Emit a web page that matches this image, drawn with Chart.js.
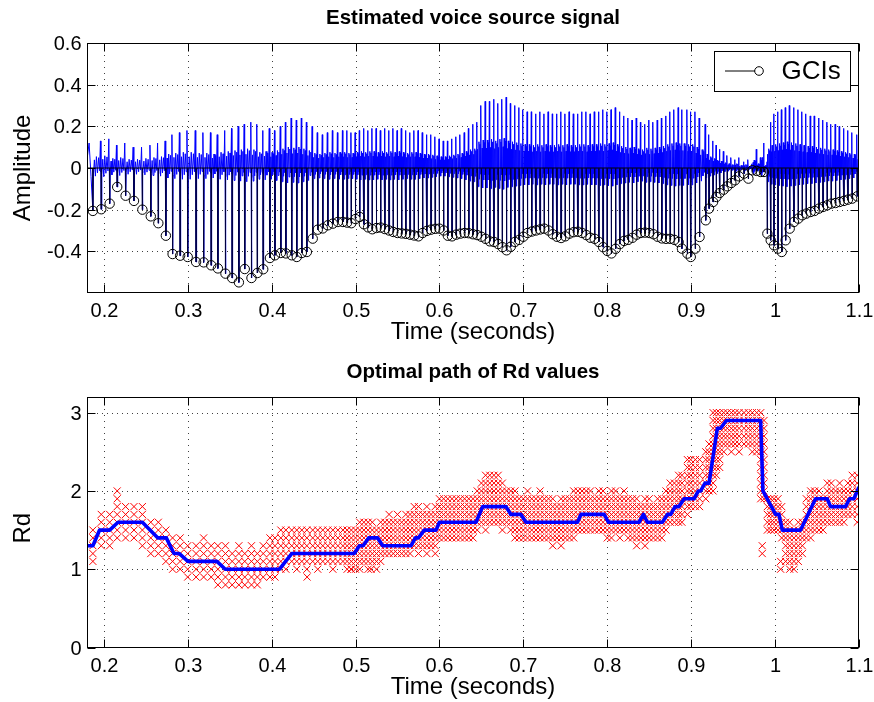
<!DOCTYPE html>
<html>
<head>
<meta charset="utf-8">
<script src="https://cdn.jsdelivr.net/npm/chart.js@4.4.0/dist/chart.umd.min.js"></script>
<style>
  html, body { margin: 0; padding: 0; background: #fff; }
  #wrap { position: relative; width: 874px; height: 702px; }
  canvas { position: absolute; left: 0; }
  #topChart { top: 0; }
  #botChart { top: 351px; }
</style>
</head>
<body>
<div id="wrap">
  <canvas id="topChart" width="874" height="351"></canvas>
  <canvas id="botChart" width="874" height="351"></canvas>
</div>
<script>
// ===== Data =====
// glottal closure instants (s) and their amplitudes
const gciT = [
  0.187,0.197,0.207,0.216,0.226,0.236,0.246,0.256,0.265,0.274,0.282,0.291,0.300,0.310,0.319,0.328,0.336,0.345,0.353,0.361,0.368,0.376,0.383,0.390,0.398,
  0.404,0.411,0.417,0.424,0.430,0.436,0.442,
  0.449,0.455,0.461,0.467,0.473,0.479,0.485,0.490,
  0.495,0.500,0.505,0.510,0.515,0.520,0.525,0.530,0.535,0.540,0.545,0.550,0.555,0.560,0.565,0.570,0.575,0.580,0.585,0.590,0.595,0.600,0.605,0.610,0.615,0.620,0.625,0.630,0.635,
  0.640,0.645,0.650,0.655,0.660,0.665,0.670,0.675,0.680,0.685,0.690,0.695,0.700,
  0.705,0.710,0.715,0.720,0.725,0.730,0.735,0.740,0.745,0.750,0.755,0.760,0.765,0.770,0.775,0.780,0.785,0.790,0.795,0.800,0.805,0.810,0.815,0.820,0.825,0.830,0.835,0.840,0.845,0.850,0.855,0.860,0.865,0.870,0.875,0.880,0.885,
  0.889,0.8955,0.8995,0.905,0.910,0.9174,0.9213,0.9261,0.9301,0.934,0.9388,0.9431,0.9479,0.9523,0.9571,0.963,0.9682,0.9729,0.9781,0.9829,0.9868,
  0.9908,0.9948,0.9987,1.0035,1.0079,1.0126,1.0174,1.0225,1.0277,1.0325,1.0372,1.0424,1.0471,1.0523,1.0571,1.0622,1.0670,1.0721,1.0769,1.0820,1.0868,1.0919,1.0979
];
const gciA = [
  -0.206,-0.198,-0.171,-0.091,-0.133,-0.158,-0.200,-0.232,-0.265,-0.325,-0.413,-0.421,-0.427,-0.451,-0.453,-0.467,-0.482,-0.507,-0.528,-0.549,-0.485,-0.528,-0.504,-0.486,-0.432,
  -0.419,-0.408,-0.410,-0.419,-0.427,-0.408,-0.403,
  -0.339,-0.296,-0.290,-0.275,-0.267,-0.259,-0.259,-0.262,
  -0.265,-0.245,-0.235,-0.270,-0.285,-0.294,-0.288,-0.286,-0.293,-0.300,-0.307,-0.312,-0.314,-0.316,-0.320,-0.324,-0.328,-0.312,-0.302,-0.296,-0.292,-0.291,-0.300,-0.325,-0.328,-0.320,-0.315,-0.312,-0.313,
  -0.318,-0.322,-0.330,-0.340,-0.352,-0.355,-0.365,-0.380,-0.395,-0.378,-0.355,-0.345,-0.330,
  -0.312,-0.305,-0.300,-0.295,-0.291,-0.300,-0.318,-0.330,-0.336,-0.328,-0.315,-0.308,-0.306,-0.312,-0.322,-0.335,-0.340,-0.355,-0.380,-0.398,-0.410,-0.388,-0.365,-0.350,-0.345,-0.335,-0.320,-0.312,-0.310,-0.312,-0.318,-0.330,-0.338,-0.340,-0.340,-0.345,-0.355,
  -0.387,-0.411,-0.427,-0.387,-0.331,-0.251,-0.195,-0.163,-0.139,-0.120,-0.104,-0.088,-0.072,-0.059,-0.040,-0.027,-0.051,-0.011,-0.014,-0.019,-0.019,
  -0.315,-0.347,-0.371,-0.387,-0.403,-0.347,-0.291,-0.259,-0.243,-0.227,-0.219,-0.211,-0.206,-0.195,-0.187,-0.179,-0.171,-0.168,-0.163,-0.158,-0.152,-0.147,-0.136
];
// positive peak of the source signal in each cycle
const peakA = [
  0.13,0.14,0.11,0.12,0.10,0.10,0.11,0.12,0.13,0.16,0.17,0.18,0.18,0.17,0.17,0.16,0.18,0.19,0.20,0.21,0.22,0.21,0.18,0.19,0.18,
  0.20,0.22,0.24,0.23,0.24,0.22,0.20,
  0.17,0.16,0.17,0.18,0.17,0.18,0.18,0.17,
  0.17,0.18,0.19,0.18,0.19,0.19,0.18,0.19,0.18,0.19,0.18,0.19,0.18,0.17,0.18,0.18,0.17,0.16,0.16,0.15,0.14,0.13,0.13,0.14,0.15,0.16,0.17,0.19,0.21,
  0.22,0.30,0.32,0.32,0.33,0.31,0.33,0.34,0.31,0.30,0.29,0.28,0.27,
  0.27,0.26,0.27,0.26,0.27,0.26,0.26,0.27,0.26,0.27,0.26,0.26,0.27,0.27,0.26,0.27,0.27,0.28,0.27,0.28,0.29,0.27,0.25,0.24,0.23,0.24,0.22,0.21,0.23,0.22,0.23,0.24,0.25,0.27,0.28,0.29,0.28,
  0.28,0.27,0.27,0.24,0.21,0.16,0.13,0.11,0.09,0.08,0.06,0.05,0.04,0.05,0.03,0.04,0.02,0.09,0.05,0.12,0.03,
  0.22,0.26,0.27,0.28,0.29,0.30,0.29,0.28,0.27,0.26,0.25,0.25,0.24,0.23,0.22,0.21,0.21,0.20,0.19,0.18,0.17,0.16,0.14
];
// Rd candidates per frame (lowest / highest kept value)
const rdLo = [
  1.1,1.3,1.3,1.4,1.4,1.4,1.3,1.2,1.2,1.1,1.0,1.0,0.9,0.9,0.9,0.9,0.8,0.8,0.8,0.8,0.8,0.8,0.8,0.9,0.9,
  0.9,1.0,1.0,1.1,1.0,1.1,1.0,
  1.1,1.0,1.1,1.1,1.0,1.1,1.1,1.0,
  1.0,1.0,1.0,1.1,1.0,1.1,1.0,1.1,1.2,1.2,1.2,1.2,1.2,1.2,1.2,1.3,1.2,1.3,1.2,1.3,1.2,1.4,1.4,1.4,1.4,1.4,1.4,1.4,1.4,
  1.4,1.5,1.6,1.5,1.6,1.6,1.6,1.5,1.6,1.5,1.4,1.4,1.4,
  1.4,1.4,1.4,1.4,1.4,1.4,1.3,1.4,1.3,1.4,1.4,1.4,1.5,1.5,1.5,1.5,1.5,1.5,1.5,1.4,1.4,1.5,1.4,1.5,1.4,1.4,1.3,1.4,1.3,1.4,1.4,1.4,1.4,1.5,1.6,1.6,1.6,
  1.6,1.7,1.8,1.8,1.8,1.9,2.0,2.0,2.2,2.3,2.5,2.6,2.5,2.6,2.5,2.6,2.6,2.5,2.5,1.9,1.9,
  1.5,1.5,1.5,1.5,1.4,1.1,1.0,1.0,1.1,1.2,1.4,1.4,1.5,1.5,1.5,1.6,1.6,1.6,1.6,1.6,1.7,1.7,1.6
];
const rdHi = [
  1.5,1.7,1.7,2.0,1.8,1.8,1.8,1.6,1.6,1.5,1.4,1.4,1.3,1.3,1.4,1.3,1.3,1.3,1.2,1.3,1.2,1.3,1.2,1.3,1.4,
  1.4,1.5,1.5,1.5,1.5,1.5,1.5,
  1.5,1.5,1.5,1.5,1.5,1.5,1.5,1.5,
  1.5,1.5,1.6,1.6,1.6,1.6,1.5,1.6,1.6,1.7,1.6,1.7,1.6,1.7,1.7,1.8,1.8,1.7,1.8,1.7,1.8,1.9,1.9,1.9,1.9,1.9,1.9,1.9,1.9,
  1.9,2.0,2.1,2.2,2.2,2.2,2.2,2.1,2.0,2.0,2.0,1.9,1.9,
  2.0,1.9,1.9,2.0,1.9,1.9,1.9,1.8,1.9,1.9,1.9,2.0,2.0,2.0,2.0,2.0,1.9,2.0,2.0,1.9,2.0,2.0,1.9,2.0,1.9,1.9,1.9,1.8,1.9,1.9,1.8,1.9,1.9,2.0,2.1,2.1,2.2,
  2.2,2.4,2.4,2.4,2.4,2.5,2.6,3.0,3.0,3.0,3.0,3.0,3.0,3.0,3.0,3.0,3.0,3.0,3.0,3.0,2.9,
  1.9,1.9,1.9,1.9,1.8,1.6,1.6,1.5,1.6,1.6,1.9,2.0,2.0,2.0,1.9,2.1,2.1,2.0,2.1,2.0,2.1,2.2,2.2
];
// isolated candidates
const rdOutT = [0.4423, 0.4947, 0.5185, 0.9847, 0.9847, 1.0066, 1.0066];
const rdOutV = [0.9, 1.0, 1.0, 1.3, 1.2, 1.0, 1.1];
// optimal Rd path (corner points)
const rdPathT = [0.18,0.187,0.195,0.207,0.217,0.246,0.2645,0.2745,0.2836,0.290,0.3003,0.3348,0.3448,0.4094,0.424,0.4985,0.5046,0.509,0.5157,0.5264,0.5324,0.5662,0.5713,0.575,0.582,0.596,0.5999,0.6436,0.6515,0.6793,0.6852,0.6971,0.7031,0.7645,0.7686,0.7963,0.8014,0.8379,0.8431,0.8478,0.8657,0.8717,0.8756,0.8808,0.8855,0.8915,0.9034,0.9086,0.9113,0.9165,0.9213,0.9312,0.9351,0.9419,0.9828,0.9855,1.0006,1.0046,1.0086,1.0304,1.0482,1.0621,1.0661,1.0840,1.0887,1.0939,1.1];
const rdPathV = [1.3,1.3,1.5,1.5,1.6,1.6,1.4,1.4,1.2,1.2,1.1,1.1,1.0,1.0,1.2,1.2,1.3,1.3,1.4,1.4,1.3,1.3,1.4,1.4,1.5,1.5,1.6,1.6,1.8,1.8,1.7,1.7,1.6,1.6,1.7,1.7,1.6,1.6,1.7,1.6,1.6,1.7,1.7,1.8,1.8,1.9,1.9,2.0,2.0,2.1,2.1,2.8,2.8,2.9,2.9,2.0,1.7,1.7,1.5,1.5,1.9,1.9,1.8,1.8,1.9,1.9,2.05];

// ticks
const xTickVals = [0.2,0.3,0.4,0.5,0.6,0.7,0.8,0.9,1.0,1.1];
const xTickLabels = ['0.2','0.3','0.4','0.5','0.6','0.7','0.8','0.9','1','1.1'];
const ampTickVals = [0.6,0.4,0.2,0,-0.2,-0.4];
const ampTickLabels = ['0.6','0.4','0.2','0','-0.2','-0.4'];
const rdTickVals = [0,1,2,3];
const rdTickLabels = ['0','1','2','3'];

// ===== Helpers =====
const FONT = '"Liberation Sans", Arial, Helvetica, sans-serif';

function txt(ctx, s, x, y, size, o = {}) {
  ctx.save();
  ctx.translate(x, y);
  if (o.rot) ctx.rotate(-Math.PI / 2);
  ctx.font = (o.bold ? 'bold ' : '') + size + 'px ' + FONT;
  ctx.textAlign = o.align || 'center';
  ctx.textBaseline = o.base || 'middle';
  ctx.fillStyle = '#000';
  ctx.fillText(s, 0, 0);
  ctx.restore();
}

function seg(ctx, x1, y1, x2, y2) {
  ctx.beginPath(); ctx.moveTo(x1, y1); ctx.lineTo(x2, y2); ctx.stroke();
}

// matlab-ish axes: white bg, dotted grid, box, inward ticks, all texts
const mAxes = {
  id: 'mAxes',
  beforeDraw(chart) {
    const ctx = chart.ctx;
    ctx.save(); ctx.fillStyle = '#fff'; ctx.fillRect(0, 0, chart.width, chart.height); ctx.restore();
  },
  beforeDatasetsDraw(chart, args, o) {
    const { ctx, chartArea: a, scales: { x, y } } = chart;
    ctx.save();
    ctx.strokeStyle = 'rgba(0,0,0,0.75)'; ctx.lineWidth = 1;
    ctx.setLineDash([1, 5]);
    o.xTicks.forEach(v => {
      const px = Math.round(x.getPixelForValue(v)) + 0.5;
      if (px > a.left + 2 && px < a.right - 2) seg(ctx, px, a.top, px, a.bottom);
    });
    ctx.setLineDash([1, 4]);
    o.yTicks.forEach(v => {
      const py = Math.round(y.getPixelForValue(v)) + 0.5;
      if (py > a.top + 2 && py < a.bottom - 2) seg(ctx, a.left, py, a.right, py);
    });
    ctx.restore();
  },
  afterDraw(chart, args, o) {
    const { ctx, chartArea: a, scales: { x, y } } = chart;
    ctx.save();
    ctx.strokeStyle = '#000'; ctx.lineWidth = 1;
    const L = Math.round(a.left) + 0.5, R = Math.round(a.right) - 0.5;
    const T = Math.round(a.top) + 0.5, B = Math.round(a.bottom) - 0.5;
    ctx.strokeRect(L, T, R - L, B - T);
    const tl = 8;
    o.xTicks.forEach((v, i) => {
      const px = Math.round(x.getPixelForValue(v)) + 0.5;
      seg(ctx, px, B, px, B - tl); seg(ctx, px, T, px, T + tl);
      txt(ctx, o.xLabels[i], px, B + 19, 20);
    });
    o.yTicks.forEach((v, i) => {
      const py = Math.round(y.getPixelForValue(v)) + 0.5;
      seg(ctx, L, py, L + tl, py); seg(ctx, R, py, R - tl, py);
      txt(ctx, o.yLabels[i], L - 6, py + 1, 20, { align: 'right' });
    });
    const cx = (a.left + a.right) / 2;
    txt(ctx, o.title, cx, a.top - 25, 20.5, { bold: true });
    txt(ctx, o.xTitle, cx, B + 39.5, 24);
    txt(ctx, o.yTitle, 23, (a.top + a.bottom) / 2 + (o.yTitleShift || 0), 24, { rot: true });
    if (o.legend) {
      const lg = o.legend;
      ctx.fillStyle = '#fff';
      ctx.fillRect(lg.x, lg.y, lg.w, lg.h);
      ctx.strokeRect(lg.x + 0.5, lg.y + 0.5, lg.w, lg.h);
      const my = lg.y + lg.h / 2;
      seg(ctx, lg.x + 11, my, lg.x + 41, my);
      ctx.beginPath(); ctx.arc(lg.x + 45, my, 4.3, 0, Math.PI * 2); ctx.stroke();
      txt(ctx, lg.label, lg.x + 67.5, my + 1, 26, { align: 'left' });
    }
    ctx.restore();
  }
};

// ===== Build mark tables from the arrays =====
// voice source: one cycle per GCI (sharp negative pulse at the GCI,
// ripple in the open phase, positive peak just before the next closure)
const CYC_POS = [0.07, 0.18, 0.30, 0.42, 0.55, 0.68, 0.80, 0.90, 0.96];
const CYC_AMP = [-0.22, 0.3, -0.3, 0.42, -0.18, 0.38, -0.1, 1.0, -0.15];
function sourceSignal() {
  const pts = [{ x: 0.18, y: 0.04 }, { x: 0.1825, y: 0.12 }, { x: 0.1848, y: -0.04 }];
  gciT.forEach((t, i) => {
    const p = (i < gciT.length - 1 ? gciT[i + 1] : t + 0.006) - t;
    pts.push({ x: t, y: gciA[i] });
    CYC_POS.forEach((f, j) => pts.push({ x: t + f * p, y: CYC_AMP[j] * peakA[i] }));
  });
  return pts;
}
function stems() {
  const pts = [];
  gciT.forEach((t, i) => { pts.push({ x: t, y: 0 }, { x: t, y: gciA[i] }, { x: t, y: null }); });
  return pts;
}
function rdCandidates() {
  const pts = [];
  gciT.forEach((t, i) => {
    for (let v = rdLo[i]; v <= rdHi[i] + 1e-6; v += 0.1) pts.push({ x: t, y: Math.round(v * 10) / 10 });
  });
  rdOutT.forEach((t, i) => pts.push({ x: t, y: rdOutV[i] }));
  return pts;
}

function xScale(h) {
  return { type: 'linear', min: 0.18, max: 1.1, display: true,
           ticks: { display: false }, grid: { display: false }, border: { display: false },
           afterFit(s) { s.height = h; } };
}
function yScale(min, max) {
  return { type: 'linear', min, max, display: true,
           ticks: { display: false }, grid: { display: false }, border: { display: false },
           afterFit(s) { s.width = 87; } };
}
const baseOpts = { responsive: false, animation: false, events: [],
                   plugins: { legend: { display: false }, tooltip: { enabled: false } } };

// ===== Top: estimated voice source =====
new Chart(document.getElementById('topChart'), {
  type: 'line',
  data: { datasets: [
    { data: gciT.map((t, i) => ({ x: t, y: gciA[i] })), showLine: false, pointStyle: 'circle',
      pointRadius: 4.7, pointBorderWidth: 1, pointBorderColor: '#000', pointBackgroundColor: 'rgba(0,0,0,0)', order: 1 },
    { data: stems(), borderColor: '#000040', borderWidth: 1, pointRadius: 0, spanGaps: false, order: 2 },
    { data: [{ x: 0.18, y: 0 }, { x: 1.1, y: 0 }], borderColor: '#000', borderWidth: 1, pointRadius: 0, order: 3 },
    { data: sourceSignal(), borderColor: '#0000ff', borderWidth: 1, pointRadius: 0, order: 4 }
  ] },
  options: { ...baseOpts,
    layout: { padding: { top: 43, right: 15, left: 0, bottom: 0 } },
    scales: { x: xScale(58), y: yScale(-0.6, 0.6) },
    plugins: { ...baseOpts.plugins,
      mAxes: { xTicks: xTickVals, xLabels: xTickLabels, yTicks: ampTickVals, yLabels: ampTickLabels,
               title: 'Estimated voice source signal', xTitle: 'Time (seconds)', yTitle: 'Amplitude',
               legend: { x: 714, y: 51, w: 136, h: 40, label: 'GCIs' } } } },
  plugins: [mAxes]
});

// ===== Bottom: optimal Rd path =====
new Chart(document.getElementById('botChart'), {
  type: 'line',
  data: { datasets: [
    { data: rdPathT.map((t, i) => ({ x: t, y: rdPathV[i] })), borderColor: '#0000ff', borderWidth: 3.6,
      borderJoinStyle: 'round', pointRadius: 0, order: 1 },
    { data: rdCandidates(), showLine: false, pointStyle: 'crossRot', pointRadius: 5,
      pointBorderWidth: 1, pointBorderColor: '#ff0000', order: 2 }
  ] },
  options: { ...baseOpts,
    layout: { padding: { top: 46, right: 15, left: 0, bottom: 0 } },
    scales: { x: xScale(54.5), y: yScale(0, 3.2) },
    plugins: { ...baseOpts.plugins,
      mAxes: { xTicks: xTickVals, xLabels: xTickLabels, yTicks: rdTickVals, yLabels: rdTickLabels,
               title: 'Optimal path of Rd values', xTitle: 'Time (seconds)', yTitle: 'Rd', yTitleShift: 6 } } },
  plugins: [mAxes]
});
</script>
</body>
</html>
